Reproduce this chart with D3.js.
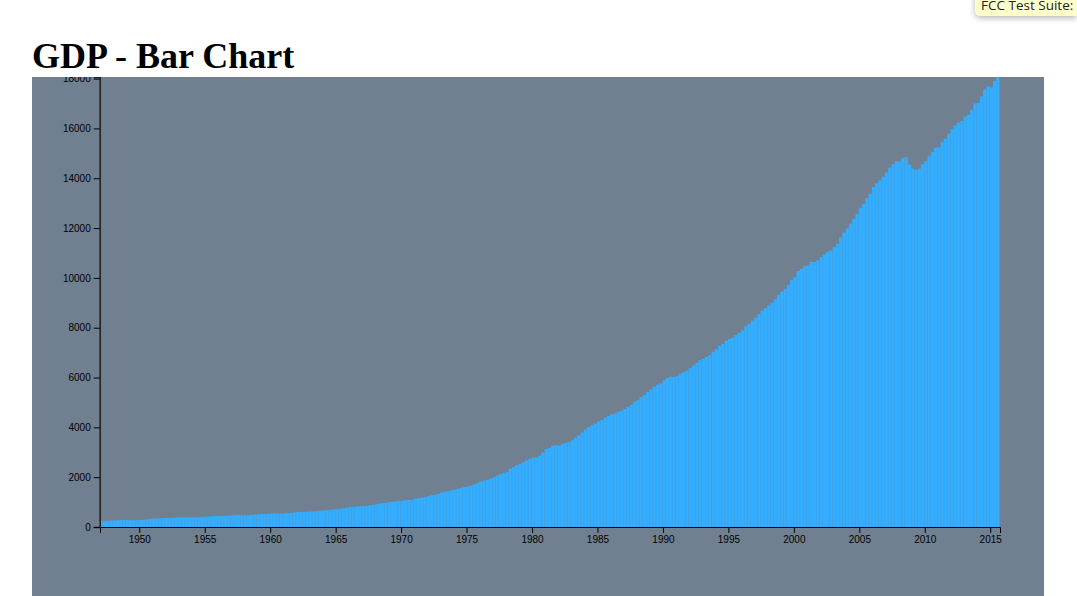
<!DOCTYPE html>
<html>
<head>
<meta charset="utf-8">
<script src="https://cdn.jsdelivr.net/npm/d3@7/dist/d3.min.js"></script>
<style>
html,body{margin:0;padding:0;background:#fff;overflow:hidden;width:1077px;height:596px}
h1{position:absolute;left:32px;top:36px;margin:0;font:bold 36px/41px "Liberation Serif",serif;color:#000}
svg{position:absolute;left:32px;top:77px;background:#708090;display:block}
.tick text{font-family:"Liberation Sans",Arial,sans-serif;font-size:10px}
#yAxis .domain{stroke:#222;stroke-width:1.6px}
#tip{position:absolute;left:975px;top:-6px;width:102px;height:22px;box-sizing:border-box;background:#ffffcc;border-radius:0 0 0 5px;box-shadow:0 2px 6px rgba(0,0,0,.3);font:13.5px/20px "Open Sans",sans-serif;color:#222;padding:1px 0 0 6px;white-space:nowrap;overflow:hidden}
</style>
</head>
<body>
<h1>GDP - Bar Chart</h1>
<div id="tip">FCC Test Suite: </div>
<svg id="chart" width="1012" height="519"></svg>
<script>
const startYear = 1947;
const gdpValues = [
243.1,246.3,250.1,260.3,266.2,272.9,279.5,280.7,275.4,271.7,273.3,271.0,
281.2,290.7,308.5,320.3,336.4,344.5,351.8,356.6,360.2,361.4,368.1,381.2,
388.5,392.3,391.7,386.5,385.9,386.7,391.6,400.3,413.8,422.2,430.9,437.8,
440.5,446.8,452.0,461.3,470.6,472.8,480.3,475.7,468.4,472.8,486.7,500.4,
511.1,524.2,525.2,529.3,543.3,542.7,546.0,541.1,545.9,557.4,568.2,581.6,
595.2,602.6,609.6,613.1,622.7,631.8,645.0,654.8,671.1,680.8,692.8,698.4,
719.2,732.4,750.2,773.1,797.3,807.2,820.8,834.9,846.0,851.1,866.6,883.2,
911.1,936.3,952.3,970.1,995.4,1011.4,1032.0,1040.7,1053.5,1070.1,1088.5,1091.5,
1137.8,1159.4,1180.3,1193.6,1233.8,1270.1,1293.8,1332.0,1380.7,1417.6,1436.8,1479.1,
1494.7,1534.2,1563.4,1603.0,1619.6,1656.4,1713.8,1765.9,1824.5,1856.9,1890.5,1938.4,
1992.5,2060.2,2122.4,2168.7,2208.7,2336.6,2398.9,2482.2,2531.6,2595.9,2670.4,2730.7,
2796.5,2799.9,2860.0,2993.5,3131.8,3167.3,3261.2,3283.5,3273.8,3331.3,3367.1,3407.8,
3480.3,3583.8,3692.3,3796.1,3912.8,4015.0,4087.4,4147.6,4237.0,4302.3,4394.6,4453.1,
4516.3,4555.2,4619.6,4669.4,4736.2,4821.5,4900.5,5022.7,5090.6,5207.7,5299.5,5412.7,
5527.4,5628.4,5711.6,5763.4,5890.8,5974.7,6029.5,6023.3,6054.9,6143.6,6218.4,6279.3,
6380.8,6492.3,6586.5,6697.6,6748.2,6829.6,6904.2,7032.8,7136.3,7269.8,7352.3,7476.7,
7545.3,7604.9,7706.5,7799.5,7893.1,8061.5,8159.0,8287.1,8402.1,8551.9,8691.8,8788.3,
8889.7,8994.7,9146.5,9325.7,9447.1,9557.0,9712.3,9926.1,10031.0,10278.3,10357.4,10472.3,
10508.1,10638.4,10639.5,10701.3,10834.4,10934.8,11037.1,11103.8,11230.1,11370.7,11625.1,11816.8,
11988.4,12181.4,12367.7,12562.2,12813.7,12974.1,13205.4,13381.6,13648.9,13799.8,13908.5,14066.4,
14233.2,14422.3,14569.7,14685.3,14668.4,14813.0,14843.0,14549.9,14383.9,14340.4,14384.1,14566.5,
14681.1,14888.6,15057.7,15230.2,15238.4,15460.9,15587.1,15785.3,15973.9,16121.9,16227.9,16297.3,
16475.4,16541.4,16749.3,16999.9,17025.2,17285.6,17569.4,17692.2,17649.3,17913.7,18064.7
];
const quarterDates = gdpValues.map((_, i) => new Date(startYear + Math.floor(i / 4), (i % 4) * 3, 1));
const barColor = "#33adff";

const plotLeft = 68, plotRight = 968, plotTop = 0, plotBottom = 450;
const svg = d3.select("#chart");
const domainEnd = d3.timeMonth.offset(quarterDates[quarterDates.length - 1], 3);
const x = d3.scaleTime().domain([quarterDates[0], domainEnd]).range([plotLeft, plotRight]);
const y = d3.scaleLinear().domain([0, d3.max(gdpValues)]).range([plotBottom, plotTop]);
const barW = (plotRight - plotLeft) / gdpValues.length;

svg.selectAll("rect.bar").data(gdpValues).join("rect")
  .attr("class", "bar")
  .attr("x", (d, i) => x(quarterDates[i]) - 0.5)
  .attr("width", barW)
  .attr("y", d => y(d))
  .attr("height", d => plotBottom - y(d))
  .attr("fill", barColor);

svg.append("g").attr("transform", `translate(0,${plotBottom})`)
  .call(d3.axisBottom(x).ticks(d3.timeYear.every(5)).tickFormat(d3.timeFormat("%Y")));
svg.append("g").attr("id", "yAxis").attr("transform", `translate(${plotLeft - 0.3},0)`)
  .call(d3.axisLeft(y).tickValues(d3.range(0, 18001, 2000)).tickFormat(d3.format("d")));
</script>
</body>
</html>
